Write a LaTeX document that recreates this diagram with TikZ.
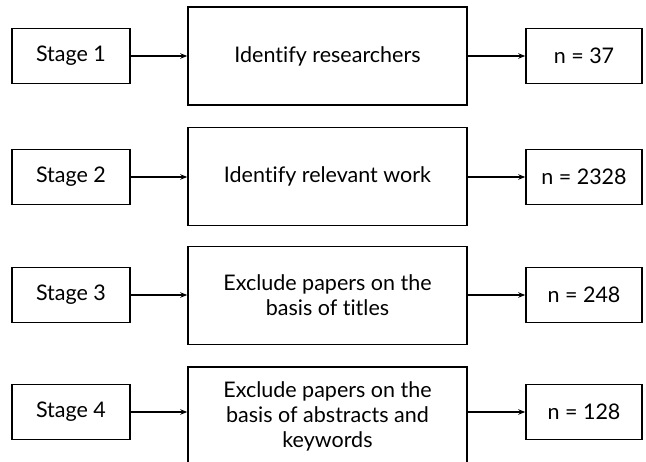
\documentclass[tikz,border=0pt]{standalone}
\usepackage{fontspec}
\setmainfont{Lato}[Ligatures=NoCommon]
\usetikzlibrary{arrows.meta}

\begin{document}
\begin{tikzpicture}[x=1pt,y=-1pt,
    stagebox/.style={draw,line width=1.5pt,minimum width=118pt,minimum height=55pt,inner sep=0pt},
    taskbox/.style={draw,line width=1.5pt,minimum width=279pt,minimum height=98pt,inner sep=0pt,align=center},
    countbox/.style={draw,line width=1.5pt,minimum width=116pt,minimum height=55pt,inner sep=0pt},
    flow/.style={line width=1.2pt,-{Stealth[length=7pt,width=5.5pt]}},
    font=\fontsize{21.5}{25}\selectfont]
    %set diagram left start at 0, and has height of 462
    \useasboundingbox (0,0) rectangle (646,462);

    % Stage 1
    \node [stagebox] (s1) at (71,56) {Stage 1};
    \node [taskbox] (t1) at (327.5,56) {Identify researchers};
    \node [countbox] (n1) at (584,56) {n = 37};
    \draw [flow] (s1) -- (s1 -| t1.west);
    \draw [flow] (t1.east |- n1) -- (n1);

    % Stage 2
    \node [stagebox] (s2) at (71,177) {Stage 2};
    \node [taskbox] (t2) at (327.5,176.5) {Identify relevant work};
    \node [countbox] (n2) at (584,177) {n = 2328};
    \draw [flow] (s2) -- (s2 -| t2.west);
    \draw [flow] (t2.east |- n2) -- (n2);

    % Stage 3
    \node [stagebox] (s3) at (71,295) {Stage 3};
    \node [taskbox] (t3) at (327.5,295.5) {Exclude papers on the\\basis of titles};
    \node [countbox] (n3) at (584,295) {n = 248};
    \draw [flow] (s3) -- (s3 -| t3.west);
    \draw [flow] (t3.east |- n3) -- (n3);

    % Stage 4
    \node [stagebox] (s4) at (71,412) {Stage 4};
    \node [taskbox] (t4) at (327.5,416) {Exclude papers on the\\basis of abstracts and\\keywords};
    \node [countbox] (n4) at (584,412) {n = 128};
    \draw [flow] (s4) -- (s4 -| t4.west);
    \draw [flow] (t4.east |- n4) -- (n4);

\end{tikzpicture}
\end{document}
